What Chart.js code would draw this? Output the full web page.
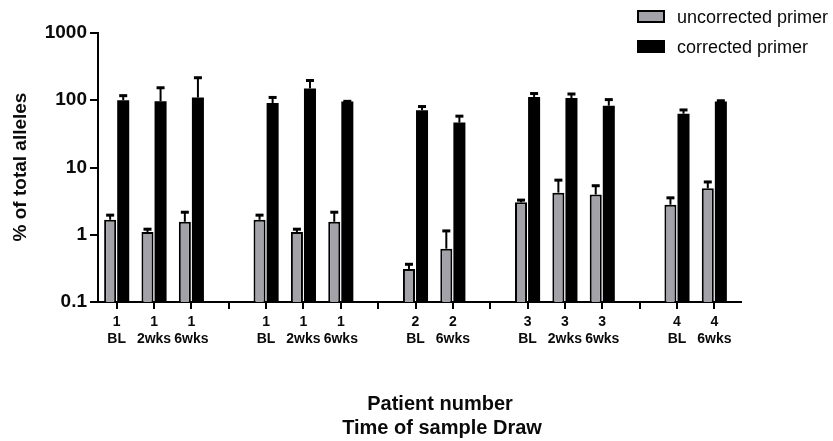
<!DOCTYPE html>
<html>
<head>
<meta charset="utf-8">
<script src="https://cdn.jsdelivr.net/npm/chart.js@4/dist/chart.umd.min.js"></script>
<style>
  html, body { margin: 0; padding: 0; background: #fff; }
  #wrap { width: 833px; height: 441px; }
</style>
</head>
<body>
<div id="wrap"><canvas id="chart" width="833" height="441"></canvas></div>
<script>
// Catégories : patient / moment du prélèvement (les vides servent d'espace entre patients)
const categories = [
    ['1', 'BL'], ['1', '2wks'], ['1', '6wks'], '',
    ['1', 'BL'], ['1', '2wks'], ['1', '6wks'], '',
    ['2', 'BL'], ['2', '6wks'], '',
    ['3', 'BL'], ['3', '2wks'], ['3', '6wks'], '',
    ['4', 'BL'], ['4', '6wks']
];

// Valeurs (% of total alleles)
const uncorrected = [1.67, 1.1, 1.56, null, 1.67, 1.1, 1.56, null, 0.31, 0.62, null, 3.03, 4.23, 3.96, null, 2.8, 4.9];
const uncorrectedTop = [1.99, 1.23, 2.2, null, 1.99, 1.23, 2.2, null, 0.37, 1.16, null, 3.33, 6.6, 5.45, null, 3.6, 6.2];
const corrected = [100, 96.6, 110, null, 91, 150, 96, null, 71, 46.5, null, 112, 108, 83, null, 63, 96];
const correctedTop = [119, 156, 220, null, 112, 200, 98, null, 82, 59, null, 128, 126, 104, null, 73, 100];

const yTicks = [0.1, 1, 10, 100, 1000];
const xTitle = ['Patient number', 'Time of sample Draw'];
const yTitle = '% of total alleles';

const errorTops = [uncorrectedTop, correctedTop];
const FONT = 'Arial, "Liberation Sans", sans-serif';
const TEXT = '#0a0a0a';

// Barres d'erreur (seulement vers le haut) + légende + titres
const decorPlugin = {
    id: 'decor',
    afterDatasetsDraw(chart) {
        const ctx = chart.ctx;
        const yScale = chart.scales.y;
        ctx.save();
        ctx.strokeStyle = '#000';
        ctx.fillStyle = '#000';
        chart.data.datasets.forEach((ds, i) => {
            const meta = chart.getDatasetMeta(i);
            meta.data.forEach((bar, j) => {
                const top = errorTops[i][j];
                if (top == null || ds.data[j] == null) return;
                const yTop = yScale.getPixelForValue(top);
                ctx.lineWidth = 2;
                ctx.beginPath();
                ctx.moveTo(bar.x, bar.y);
                ctx.lineTo(bar.x, yTop);
                ctx.stroke();
                ctx.fillRect(bar.x - 4, yTop - 1, 8, 3);
            });
        });
        ctx.restore();
    },
    afterDraw(chart) {
        const ctx = chart.ctx;
        const area = chart.chartArea;
        ctx.save();
        // prolongement de l'axe x
        ctx.strokeStyle = '#000';
        ctx.lineWidth = 2;
        ctx.beginPath();
        ctx.moveTo(area.right - 1, area.bottom);
        ctx.lineTo(742, area.bottom);
        ctx.stroke();

        // légende
        ctx.font = '18px ' + FONT;
        ctx.textBaseline = 'middle';
        ctx.textAlign = 'left';
        chart.data.datasets.forEach((ds, i) => {
            const y = 10 + i * 30;
            ctx.fillStyle = ds.backgroundColor;
            ctx.fillRect(637, y, 28, 13);
            ctx.lineWidth = 2;
            ctx.strokeStyle = '#000';
            ctx.strokeRect(638, y + 1, 26, 11);
            ctx.fillStyle = TEXT;
            ctx.fillText(ds.label, 677, y + 8);
        });

        // titre de l'axe x
        ctx.font = 'bold 20px ' + FONT;
        ctx.textAlign = 'center';
        ctx.fillStyle = TEXT;
        ctx.fillText(xTitle[0], 440, 404);
        ctx.fillText(xTitle[1], 442, 428);

        // titre de l'axe y
        ctx.translate(21, 167);
        ctx.rotate(-Math.PI / 2);
        ctx.font = 'bold 19px ' + FONT;
        ctx.fillText(yTitle, 0, 0);
        ctx.restore();
    }
};

new Chart(document.getElementById('chart'), {
    type: 'bar',
    data: {
        labels: categories,
        datasets: [{
            label: 'uncorrected primer',
            data: uncorrected,
            backgroundColor: '#a2a2a8',
            borderColor: '#000',
            borderWidth: 2,
            barPercentage: 0.92,
            categoryPercentage: 0.7
        }, {
            label: 'corrected primer',
            data: corrected,
            backgroundColor: '#000',
            borderColor: '#000',
            borderWidth: 0,
            barPercentage: 0.92,
            categoryPercentage: 0.7
        }]
    },
    plugins: [decorPlugin],
    options: {
        responsive: false,
        animation: false,
        layout: { padding: { left: 0, top: 33, right: 100, bottom: 0 } },
        scales: {
            x: {
                grid: { display: true, drawOnChartArea: false, offset: false, color: '#000', lineWidth: 2, tickLength: 7 },
                border: { display: true, color: '#000', width: 2 },
                ticks: {
                    color: TEXT,
                    font: { family: FONT, size: 14, weight: 'bold', lineHeight: 1.2 },
                    padding: 5,
                    maxRotation: 0,
                    autoSkip: false
                },
                afterFit: (scale) => { scale.height = 139; }
            },
            y: {
                type: 'logarithmic',
                min: 0.1,
                max: 1000,
                grid: { display: true, drawOnChartArea: false, color: '#000', lineWidth: 2, tickLength: 8 },
                border: { display: true, color: '#000', width: 2 },
                ticks: {
                    color: TEXT,
                    font: { family: FONT, size: 19, weight: 'bold' },
                    padding: 3,
                    callback: (v) => String(v)
                },
                afterBuildTicks: (scale) => { scale.ticks = yTicks.map(v => ({ value: v })); },
                afterFit: (scale) => { scale.width = 98; }
            }
        },
        plugins: {
            legend: { display: false },
            tooltip: { enabled: false }
        }
    }
});
</script>
</body>
</html>
